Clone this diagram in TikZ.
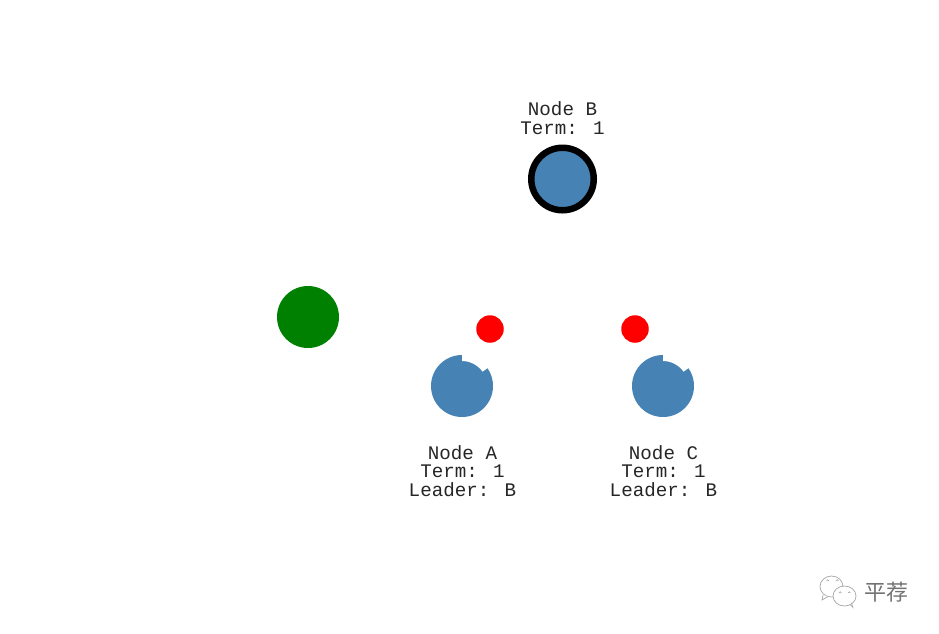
\documentclass[tikz,border=0pt]{standalone}
\usepackage{fontspec}
\setmainfont{Liberation Mono}
\newfontfamily\cjkmark{Noto Sans CJK SC}
\definecolor{nodeblue}{RGB}{70,130,180}
\definecolor{markgray}{RGB}{165,165,165}
\tikzset{
  x=1pt,y=-1pt,
  peer/.style={circle,fill=nodeblue,draw=none,minimum size=62pt,inner sep=0pt},
  leader/.style={circle,fill=nodeblue,draw=black,line width=6.5pt,minimum size=62.5pt,inner sep=0pt},
  client/.style={circle,fill=green!50!black,draw=none,minimum size=62pt,inner sep=0pt},
  vote/.style={circle,fill=red,draw=none,minimum size=27.5pt,inner sep=0pt},
  lbl/.style={align=center,inner sep=0pt,font=\fontsize{19.2}{18.8}\selectfont,text=black!85},
  notch/.style={fill=white,draw=none},
  bubble/.style={draw=markgray,line width=0.7pt,fill=white},
  eye/.style={draw=markgray,line width=0.6pt,line cap=round}
}
\begin{document}
\begin{tikzpicture}
\useasboundingbox (0,0) rectangle (939,633);
\fill[white] (0,0) rectangle (939,633);
% client
\node[client] (client) at (308,317) {};
% leader
\node[leader] (nodeB) at (562.5,179) {};
\node[lbl,anchor=south] (labelB) at (562.5,135) {Node B\\Term: 1};
% follower A
\node[peer] (nodeA) at (462,386) {};
\fill[notch]
  (462,354) -- (462,361) arc[start angle=-90,end angle=-35,radius=25] -- ++(-35:9) -- ++(-90:30) -- cycle;
\node[vote] (voteA) at (490,329) {};
\node[lbl,anchor=north] (labelA) at (462.5,445) {Node A\\Term: 1\\Leader: B};
% follower C
\node[peer] (nodeC) at (663,386) {};
\fill[notch]
  (663,354) -- (663,361) arc[start angle=-90,end angle=-35,radius=25] -- ++(-35:9) -- ++(-90:30) -- cycle;
\node[vote] (voteC) at (635,329) {};
\node[lbl,anchor=north] (labelC) at (663.5,445) {Node C\\Term: 1\\Leader: B};
% watermark
\draw[bubble] (831.5,586.5) ellipse[x radius=11.5,y radius=10.5];
\draw[bubble] (823,595) -- (822,600) -- (828,596.5);
\draw[bubble] (844.5,596) ellipse[x radius=11.5,y radius=10];
\draw[eye] (850,604.5) -- (853,607.5) -- (851.5,603);
\draw[eye] (826.5,581) arc[start angle=-180,end angle=0,radius=1.2];
\draw[eye] (836,581) arc[start angle=-180,end angle=0,radius=1.2];
\draw[eye] (839,593) arc[start angle=-180,end angle=0,radius=1.2];
\draw[eye] (848,593) arc[start angle=-180,end angle=0,radius=1.2];
\node[inner sep=0pt,text=black!55,font=\cjkmark\fontsize{22}{22}\selectfont] (mark) at (886,592) {平荐};
\end{tikzpicture}
\end{document}
